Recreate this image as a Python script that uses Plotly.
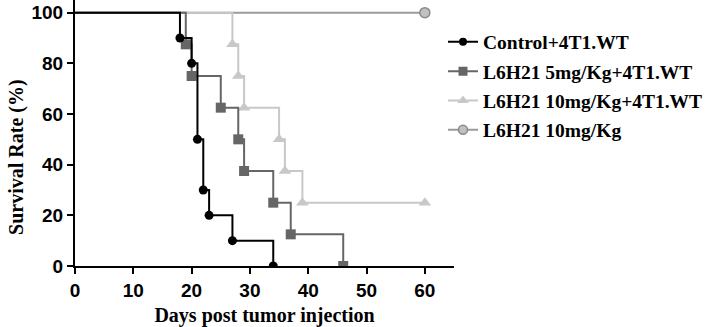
import plotly.graph_objects as go

# Kaplan-Meier step data (days, survival %)
ctrl_x = [0, 18, 20, 21, 22, 23, 27, 34]
ctrl_y = [100, 90, 80, 50, 30, 20, 10, 0]

mg5_x = [0, 19, 20, 25, 28, 29, 34, 37, 46]
mg5_y = [100, 87.5, 75, 62.5, 50, 37.5, 25, 12.5, 0]

mg10t_x = [0, 27, 28, 29, 35, 36, 39, 60]
mg10t_y = [100, 87.5, 75, 62.5, 50, 37.5, 25, 25]

mg10_x = [0, 60]
mg10_y = [100, 100]

names = ["Control+4T1.WT", "L6H21 5mg/Kg+4T1.WT", "L6H21 10mg/Kg+4T1.WT", "L6H21 10mg/Kg"]
x_ticks = [0, 10, 20, 30, 40, 50, 60]
y_ticks = [0, 20, 40, 60, 80, 100]

series = [
    (ctrl_x, ctrl_y, names[0], "#000000", "circle", 9, "#000000"),
    (mg5_x, mg5_y, names[1], "#666666", "square", 10, "#666666"),
    (mg10t_x, mg10t_y, names[2], "#c8c8c8", "triangle-up", 11, "#c8c8c8"),
    (mg10_x, mg10_y, names[3], "#9a9a9a", "circle", 10, "#8a8a8a"),
]

fig = go.Figure()
# draw in reverse so control is on top
for xs, ys, nm, col, sym, sz, lc in reversed(series):
    fig.add_trace(go.Scatter(x=xs, y=ys, mode="lines", line=dict(shape="hv", color=col, width=2),
                             showlegend=False, hoverinfo="skip"))
    mfill = "#c0c0c0" if nm == names[3] else col
    fig.add_trace(go.Scatter(x=xs[1:], y=ys[1:], mode="markers",
                             marker=dict(symbol=sym, size=sz, color=mfill, line=dict(color=lc, width=1.5 if nm == names[3] else 0)),
                             showlegend=False))

for i, (xs, ys, nm, col, sym, sz, lc) in enumerate(series):
    mfill = "#c0c0c0" if nm == names[3] else col
    fig.add_trace(go.Scatter(x=[None], y=[None], mode="lines+markers", name=nm, legendgroup="g%d" % i,
                             line=dict(color=col, width=2),
                             marker=dict(symbol=sym, size=sz - 1, color=mfill, line=dict(color=lc, width=1.5 if nm == names[3] else 0))))

bold_sans = dict(family="Liberation Sans", size=19, color="black", weight="bold")
bold_serif = dict(family="Liberation Serif", size=20, color="black", weight="bold")

fig.update_layout(
    width=708, height=327,
    margin=dict(l=75, r=253, t=0, b=61),
    paper_bgcolor="white", plot_bgcolor="white",
    legend=dict(x=0.972, y=0.915, xanchor="left", yanchor="top", font=dict(family="Liberation Serif", size=19.5, color="black", weight="bold"),
                bgcolor="rgba(0,0,0,0)", itemwidth=30, tracegroupgap=1),
    xaxis=dict(range=[0, 65], tickvals=x_ticks, ticks="outside", ticklen=6, tickwidth=2, tickcolor="black",
               showline=True, linecolor="black", linewidth=2, showgrid=False, zeroline=False,
               tickfont=bold_sans, automargin=False,
               title=dict(text="Days post tumor injection", font=bold_serif, standoff=8)),
    yaxis=dict(range=[0, 105], tickvals=y_ticks, ticks="outside", ticklen=6, tickwidth=2, tickcolor="black",
               showline=True, linecolor="black", linewidth=2, showgrid=False, zeroline=False,
               tickfont=bold_sans, automargin=False),
    annotations=[dict(text="Survival Rate (%)", font=bold_serif, textangle=-90, showarrow=False,
                      xref="paper", yref="paper", x=0, y=0.41, xanchor="center", yanchor="middle", xshift=-58)],
)

fig.write_html("out.html", config={"displayModeBar": False},
               post_script="document.body.style.margin='0';")
